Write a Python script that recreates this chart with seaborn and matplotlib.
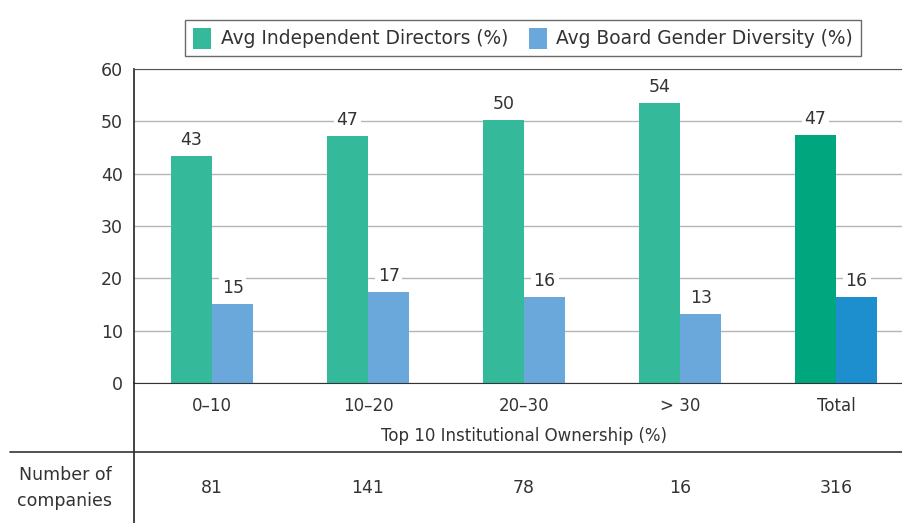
import seaborn as sns
import pandas as pd
import numpy as np
import matplotlib.pyplot as plt
from matplotlib.lines import Line2D

categories = ["0–10", "10–20", "20–30", "> 30", "Total"]
indep_dir = [43.4, 47.2, 50.3, 53.5, 47.4]
gender_div = [15.1, 17.4, 16.4, 13.2, 16.4]
indep_lbl = [43, 47, 50, 54, 47]
gender_lbl = [15, 17, 16, 13, 16]
n_companies = [81, 141, 78, 16, 316]
series_names = ["Avg Independent Directors (%)", "Avg Board Gender Diversity (%)"]

green = (53/255, 185/255, 155/255)
green_tot = (0/255, 166/255, 125/255)
blue = (106/255, 168/255, 220/255)
blue_tot = (30/255, 143/255, 206/255)
txt = "#333333"
fs = 12

sns.set_style("white")
plt.rcParams['font.family'] = ['DejaVu Sans']
plt.rcParams['text.color'] = txt

df = pd.DataFrame({
    "cat": categories * 2,
    "val": indep_dir + gender_div,
    "series": [series_names[0]] * 5 + [series_names[1]] * 5,
})

W, H = 903, 523
fig = plt.figure(figsize=(W/100, H/100), dpi=100)
ax = fig.add_axes([134/W, 140/H, 780/W, 314/H])

sns.barplot(data=df, x="cat", y="val", hue="series", order=categories,
            hue_order=series_names, palette=[green, blue], width=0.53,
            saturation=1, linewidth=0, ax=ax, legend=True)

# recolour the Total bars
for cont, col in zip(ax.containers, [green_tot, blue_tot]):
    cont.patches[-1].set_facecolor(col)

ax.set_xlim(-0.5, 4.5)
ax.set_ylim(0, 60)
ax.set_yticks(range(0, 61, 10))
ax.grid(axis='y', color='#b5b5b5', linewidth=1)
ax.set_axisbelow(True)

ax.spines['right'].set_visible(False)
ax.spines['top'].set_color('#555555')
ax.spines['left'].set_color('#222222')
ax.spines['bottom'].set_color('#333333')
ax.spines['left'].set_linewidth(1.2)

ax.tick_params(axis='y', length=5, color='#222222', labelsize=fs + 0.5, labelcolor=txt, pad=3)
ax.tick_params(axis='x', which='major', length=0, labelsize=fs, labelcolor=txt, pad=10)
ax.set_xticks([0.5, 1.5, 2.5, 3.5], minor=True)
ax.tick_params(axis='x', which='minor', length=6, color='#333333')
ax.set_ylabel("")
ax.set_xlabel("Top 10 Institutional Ownership (%)", fontsize=fs, color=txt, labelpad=9)

# value labels
for cont, lbls in zip(ax.containers, [indep_lbl, gender_lbl]):
    for p, l in zip(cont.patches, lbls):
        ax.annotate(str(l), (p.get_x() + p.get_width() / 2, p.get_height()),
                    xytext=(0, 8), textcoords='offset points', ha='center', va='baseline',
                    fontsize=fs + 0.5, color=txt,
                    bbox=dict(facecolor='white', edgecolor='none', pad=2))

# legend
leg = ax.legend(loc='upper center', bbox_to_anchor=(523/W, 1 - 11/H), bbox_transform=fig.transFigure,
                ncol=2, frameon=True, fancybox=False, fontsize=13.4, handlelength=1.0,
                handleheight=1.35, columnspacing=1.1, handletextpad=0.5, borderpad=0.4)
leg.get_frame().set_edgecolor('#444444')
leg.get_frame().set_linewidth(1)

# table below the chart
fig.add_artist(Line2D([134/W, 134/W], [0, 140/H], transform=fig.transFigure, color='#222222', lw=1.2))
fig.add_artist(Line2D([10/W, 1], [1 - 452/H, 1 - 452/H], transform=fig.transFigure, color='#333333', lw=1.2))
fig.text(65/W, 1 - 488/H, "Number of\ncompanies", ha='center', va='center', fontsize=fs + 0.5,
         color=txt, linespacing=1.6)
for i, n in enumerate(n_companies):
    xf = ax.transData.transform((i, 0))[0] / W
    fig.text(xf, 1 - 488/H, str(n), ha='center', va='center', fontsize=fs + 0.5, color=txt)

fig.savefig("out.png", dpi=100)
